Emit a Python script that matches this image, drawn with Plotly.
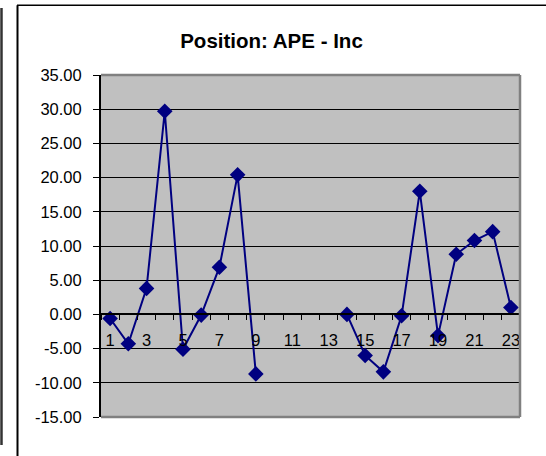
import plotly.graph_objects as go

categories = list(range(1, 24))
values = [-0.6, -4.3, 3.8, 29.7, -5.1, -0.1, 6.9, 20.4, -8.7,
          None, None, None, None,
          0.0, -6.0, -8.4, -0.2, 18.0, -3.1, 8.8, 10.8, 12.1, 1.0]
x_tick_vals = list(range(1, 24, 2))
x_tick_text = [str(v) for v in x_tick_vals]
y_tick_vals = [35, 30, 25, 20, 15, 10, 5, 0, -5, -10, -15]
y_tick_text = ["%.2f" % v for v in y_tick_vals]
title_text = "Position: APE - Inc"

FONT = "Liberation Sans, Arial, sans-serif"

fig = go.Figure()
fig.add_trace(go.Scatter(
    x=categories, y=values, mode="lines+markers",
    line=dict(color="#000080", width=2),
    marker=dict(symbol="diamond", size=12, color="#000080"),
    connectgaps=False, showlegend=False, cliponaxis=False,
))

L, R, T, B = 101, 26, 75, 39
W, H = 546, 456
pw, ph = W - L - R, H - T - B

def px(x):
    return (x - L) / pw

def py(y):
    return (H - B - y) / ph

shapes = [
    dict(type="line", xref="paper", yref="paper", x0=0, x1=1, y0=1, y1=1,
         line=dict(color="#808080", width=2.5), layer="above"),
    dict(type="line", xref="paper", yref="paper", x0=1, x1=1, y0=0, y1=1,
         line=dict(color="#808080", width=2.5), layer="above"),
    dict(type="line", xref="paper", yref="paper", x0=0, x1=1, y0=0, y1=0,
         line=dict(color="#808080", width=2.5), layer="above"),
    dict(type="line", xref="paper", yref="paper", x0=px(17.5), x1=px(17.5),
         y0=py(5.3), y1=py(460), line=dict(color="#000000", width=2)),
    dict(type="line", xref="paper", yref="paper", x0=px(17), x1=px(550),
         y0=py(5.3), y1=py(5.3), line=dict(color="#000000", width=1.5)),
    dict(type="line", xref="paper", yref="paper", x0=px(1.5), x1=px(1.5),
         y0=py(8), y1=py(445), line=dict(color="#333333", width=2.5)),
]

fig.update_layout(
    width=W, height=H,
    margin=dict(l=L, r=R, t=T, b=B),
    paper_bgcolor="white", plot_bgcolor="#C0C0C0",
    font=dict(family=FONT, size=16, color="black"),
    title=dict(text="<b>" + title_text + "</b>", x=271.5 / W, y=1 - 41 / H,
               xref="container", yref="container",
               xanchor="center", yanchor="middle",
               font=dict(family=FONT, size=20.5, color="black")),
    xaxis=dict(range=[0.5, 23.5], tickvals=x_tick_vals, ticktext=x_tick_text,
               ticks="", showgrid=False, zeroline=False,
               showline=True, linecolor="black", linewidth=1.5,
               anchor="free", position=0.3, ticklabelstandoff=11,
               tickfont=dict(size=16.5),
               minor=dict(tickmode="linear", tick0=0.5, dtick=1, ticks="outside",
                          ticklen=5, tickcolor="black", tickwidth=1, showgrid=False)),
    yaxis=dict(range=[-15, 35], tickvals=y_tick_vals, ticktext=y_tick_text,
               ticks="outside", ticklen=6, tickcolor="black", tickwidth=1,
               showgrid=True, gridcolor="black", gridwidth=1,
               zeroline=False, showline=True, linecolor="black", linewidth=2,
               ticklabelstandoff=8, tickfont=dict(size=16.5)),
    shapes=shapes,
)

fig.write_html("out.html", config={"displayModeBar": False},
               post_script="document.body.style.margin='0px';")
